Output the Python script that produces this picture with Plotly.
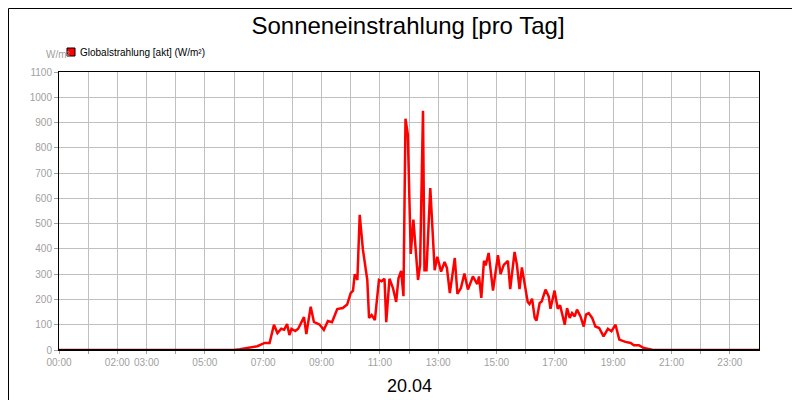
import plotly.graph_objects as go

hours = [0, 6.0, 6.2, 6.5, 6.8, 7.05, 7.22, 7.37, 7.49, 7.62, 7.72, 7.82, 7.90, 7.97, 8.1, 8.2, 8.40, 8.48, 8.63, 8.74,
         8.94, 9.08, 9.22, 9.36, 9.54, 9.73, 9.88, 10.0, 10.08, 10.14, 10.23, 10.31, 10.42, 10.57, 10.63, 10.72,
         10.83, 10.97, 11.06, 11.16, 11.22, 11.33, 11.45, 11.56, 11.64, 11.73, 11.81, 11.88, 11.96, 12.06, 12.15,
         12.31, 12.38, 12.48, 12.53, 12.60, 12.73, 12.88, 12.97, 13.1, 13.22, 13.30, 13.4, 13.57, 13.66, 13.78,
         13.9, 14.02, 14.10, 14.19, 14.34, 14.40, 14.48, 14.57, 14.63, 14.73, 14.88, 15.05, 15.14, 15.25, 15.39,
         15.47, 15.62, 15.70, 15.79, 15.87, 16.07, 16.13, 16.22, 16.31, 16.37, 16.48, 16.55, 16.68, 16.79, 16.85,
         16.99, 17.1, 17.18, 17.34, 17.42, 17.51, 17.59, 17.68, 17.76, 17.88, 17.99, 18.07, 18.16, 18.28, 18.39,
         18.52, 18.67, 18.82, 18.94, 19.08, 19.21, 19.42, 19.6, 19.71, 19.88, 20.05, 20.34, 20.6, 24.0]
values = [0, 0, 3, 8, 15, 28, 28, 100, 67, 84, 80, 103, 59, 84, 75, 84, 130, 63, 171, 111,
          100, 80, 115, 110, 162, 166, 180, 225, 235, 300, 277, 535, 397, 277, 127, 138,
          118, 277, 272, 282, 110, 282, 245, 190, 284, 313, 213, 915, 852, 380, 516,
          277, 336, 947, 316, 316, 641, 316, 369, 310, 348, 325, 225, 364, 222, 245,
          303, 239, 265, 291, 261, 291, 206, 353, 335, 384, 235, 375, 300, 337, 353,
          241, 388, 337, 241, 327, 190, 182, 203, 127, 116, 186, 192, 239, 212, 163,
          235, 163, 177, 100, 166, 127, 146, 133, 160, 133, 93, 140, 146, 127, 93,
          87, 54, 84, 74, 100, 41, 32, 28, 19, 19, 8, 1, 0, 0]

series_name = "Globalstrahlung [akt] (W/m²)"
tick_hours = list(range(24))
labeled = {0, 2, 3, 5, 7, 9, 11, 13, 15, 17, 19, 21, 23}
tick_text = [f"{h:02d}:00" if h in labeled else "" for h in tick_hours]
y_ticks = list(range(0, 1101, 100))

fig = go.Figure()
fig.add_trace(go.Scatter(x=hours, y=values, mode="lines", name=series_name,
                         line=dict(color="#ff0000", width=2.5), showlegend=False))

W, H = 800, 400
l, r, t, b = 51, 49, 64, 58
pw, ph = W - l - r, H - t - b
def px(x): return (x - l) / pw
def py(y): return (H - b - y) / ph

fig.update_layout(
    width=W, height=H, margin=dict(l=l, r=r, t=t, b=b, autoexpand=False),
    paper_bgcolor="white", plot_bgcolor="white",
    font=dict(family="Liberation Sans, Arial, sans-serif"),
    title=dict(text="Sonneneinstrahlung [pro Tag]", x=0.5, xanchor="center", y=1 - 18 / H, yanchor="middle",
               font=dict(size=24, color="black")),
    showlegend=False,
    xaxis=dict(range=[0, 24], tickvals=tick_hours, ticktext=tick_text, showgrid=True, gridcolor="#c0c0c0",
               tickfont=dict(size=10, color="#a0a0a0"), ticks="outside", ticklen=3, tickcolor="#a0a0a0",
               showline=True, linecolor="black", mirror=True, zeroline=False, automargin=False),
    yaxis=dict(range=[0, 1100], tickvals=y_ticks, showgrid=True, gridcolor="#c0c0c0",
               tickfont=dict(size=10, color="#a0a0a0"), ticks="outside", ticklen=4, tickcolor="#a0a0a0",
               showline=True, linecolor="black", mirror=True, zeroline=False, automargin=False),
)
fig.add_annotation(text="20.04", xref="paper", yref="paper", x=0.5, y=py(378), showarrow=False,
                   font=dict(size=18, color="black"), yanchor="middle")
fig.add_annotation(text="W/m²", xref="paper", yref="paper", x=px(36), y=py(47),
                   showarrow=False, font=dict(size=10, color="#a0a0a0"), yanchor="middle")
fig.add_shape(type="rect", xref="paper", yref="paper", x0=px(59), x1=px(67), y0=py(48), y1=py(40),
              fillcolor="#ff0000", line=dict(color="black", width=1))
fig.add_annotation(text=series_name, xref="paper", yref="paper", x=px(70), y=py(44), xanchor="left",
                   showarrow=False, font=dict(size=10, color="black"), yanchor="middle")
fig.add_shape(type="line", xref="paper", yref="y", x0=0, x1=1, y0=0, y1=0, line=dict(color="black", width=2))
fig.add_shape(type="rect", xref="paper", yref="paper", x0=px(0.5), x1=px(799.5),
              y0=py(399.5), y1=py(0.5), line=dict(color="black", width=1))
fig.write_html("out.html")
